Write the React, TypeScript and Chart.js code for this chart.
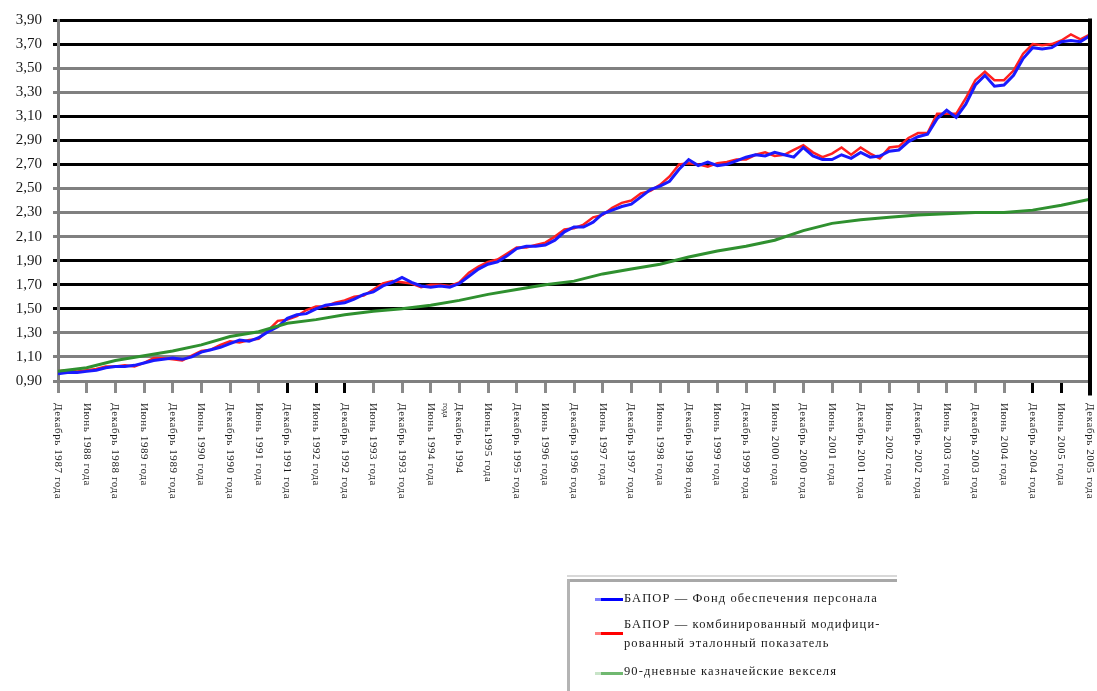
import React, { useEffect, useRef } from "react";
import { Chart, registerables } from "chart.js";

Chart.register(...registerables);

// Months counted from December 1987 (0) to December 2005 (216)
const seriesMonths: number[] = [
  0, 2, 4, 6, 8, 10, 12, 14, 16, 18, 20, 22, 24, 26, 28, 30, 32, 34, 36, 38, 40, 42, 44, 46, 48, 50, 52, 54,
  56, 58, 60, 62, 64, 66, 68, 70, 72, 74, 76, 78, 80, 82, 84, 86, 88, 90, 92, 94, 96, 98, 100, 102, 104, 106,
  108, 110, 112, 114, 116, 118, 120, 122, 124, 126, 128, 130, 132, 134, 136, 138, 140, 142, 144, 146, 148,
  150, 152, 154, 156, 158, 160, 162, 164, 166, 168, 170, 172, 174, 176, 178, 180, 182, 184, 186, 188, 190,
  192, 194, 196, 198, 200, 202, 204, 206, 208, 210, 212, 214, 216,
];

const fundValues: number[] = [
  0.96, 0.97, 0.97, 0.98, 0.99, 1.01, 1.02, 1.02, 1.03, 1.05, 1.07, 1.08, 1.09, 1.08, 1.1, 1.14, 1.16, 1.18,
  1.21, 1.24, 1.23, 1.26, 1.31, 1.35, 1.42, 1.45, 1.46, 1.5, 1.53, 1.54, 1.55, 1.58, 1.62, 1.64, 1.69, 1.72,
  1.76, 1.72, 1.69, 1.68, 1.69, 1.68, 1.71, 1.77, 1.83, 1.87, 1.89, 1.94, 2.0, 2.02, 2.02, 2.03, 2.07, 2.14,
  2.18, 2.18, 2.22, 2.29, 2.32, 2.35, 2.37, 2.43, 2.49, 2.52, 2.56, 2.66, 2.74, 2.69, 2.72, 2.69, 2.7, 2.73,
  2.76, 2.78, 2.77, 2.8, 2.78, 2.76, 2.84, 2.77, 2.74, 2.74, 2.78, 2.75, 2.8, 2.76, 2.77, 2.81, 2.82, 2.89,
  2.93, 2.95, 3.08, 3.15, 3.09, 3.2, 3.36, 3.44, 3.35, 3.36, 3.44, 3.58, 3.67, 3.66, 3.67, 3.72, 3.73, 3.72,
  3.77,
];

const benchmarkValues: number[] = [
  0.98, 0.99, 0.98, 0.99, 1.0, 1.02, 1.02, 1.03, 1.02, 1.05, 1.09, 1.09, 1.08, 1.07, 1.11, 1.15, 1.16, 1.2,
  1.23, 1.22, 1.24, 1.25, 1.32, 1.4, 1.41, 1.44, 1.49, 1.52, 1.52, 1.55, 1.57, 1.6, 1.61, 1.66, 1.71, 1.73,
  1.72, 1.71, 1.68, 1.7, 1.7, 1.69, 1.72, 1.8, 1.85, 1.89, 1.91, 1.96, 2.01, 2.01, 2.03, 2.05, 2.1, 2.16,
  2.17, 2.2, 2.26, 2.28, 2.34, 2.38, 2.4, 2.46, 2.48, 2.53, 2.6, 2.7, 2.71, 2.7, 2.68, 2.71, 2.72, 2.74,
  2.74, 2.78, 2.8, 2.77, 2.78, 2.82, 2.86, 2.8, 2.76, 2.79, 2.84, 2.78, 2.84, 2.79, 2.75, 2.84, 2.85, 2.92,
  2.96, 2.96, 3.12, 3.12, 3.12, 3.25, 3.4, 3.47, 3.4, 3.4, 3.48, 3.62, 3.7, 3.69, 3.7, 3.73, 3.78, 3.74,
  3.78,
];

const billMonths: number[] = [
  0, 6, 12, 18, 24, 30, 36, 42, 48, 54, 60, 66, 72, 78, 84, 90, 96, 102, 108, 114, 120, 126, 132, 138, 144,
  150, 156, 162, 168, 174, 180, 186, 192, 198, 204, 210, 216,
];

const billValues: number[] = [
  0.98, 1.01, 1.07, 1.11, 1.15, 1.2, 1.27, 1.31, 1.38, 1.41, 1.45, 1.48, 1.5, 1.53, 1.57, 1.62, 1.66, 1.7,
  1.73, 1.79, 1.83, 1.87, 1.93, 1.98, 2.02, 2.07, 2.15, 2.21, 2.24, 2.26, 2.28, 2.29, 2.3, 2.3, 2.32, 2.36,
  2.41,
];

const xTickMonths: number[] = billMonths;

const xTickLabels: string[] = [
  "Декабрь 1987 года", "Июнь 1988 года", "Декабрь 1988 года", "Июнь 1989 года", "Декабрь 1989 года",
  "Июнь 1990 года", "Декабрь 1990 года", "Июнь 1991 года", "Декабрь 1991 года", "Июнь 1992 года",
  "Декабрь 1992 года", "Июнь 1993 года", "Декабрь 1993 года", "Июнь 1994 года", "Декабрь 1994",
  "Июнь1995 года", "Декабрь 1995 года", "Июнь 1996 года", "Декабрь 1996 года", "Июнь 1997 года",
  "Декабрь 1997 года", "Июнь 1998 года", "Декабрь 1998 года", "Июнь 1999 года", "Декабрь 1999 года",
  "Июнь 2000 года", "Декабрь 2000 года", "Июнь 2001 года", "Декабрь 2001 года", "Июнь 2002 года",
  "Декабрь 2002 года", "Июнь 2003 года", "Декабрь 2003 года", "Июнь 2004 года", "Декабрь 2004 года",
  "Июнь 2005 года", "Декабрь 2005 года",
];

const xTickNoteIndex = 14;
const xTickNote = "года";

const yTickValues: number[] = [0.9, 1.1, 1.3, 1.5, 1.7, 1.9, 2.1, 2.3, 2.5, 2.7, 2.9, 3.1, 3.3, 3.5, 3.7, 3.9];
const yTickLabels: string[] = [
  "0,90", "1,10", "1,30", "1,50", "1,70", "1,90", "2,10", "2,30", "2,50", "2,70", "2,90", "3,10", "3,30",
  "3,50", "3,70", "3,90",
];

const seriesNames: string[] = [
  "БАПОР — Фонд обеспечения персонала",
  "БАПОР — комбинированный модифици-рованный эталонный показатель",
  "90-дневные казначейские векселя",
];

// Styling (not data)
const darkGridIndexes = [3, 4, 5, 9, 10, 11, 14, 15];
const darkXTickIndexes = [8, 9, 10, 34, 35, 36];
const FONT = '"Liberation Serif", "Times New Roman", serif';

const xLabelPlugin = {
  id: "xLabelPlugin",
  afterDraw(chart: any) {
    const { ctx, chartArea } = chart;
    const xs = chart.scales.x;
    ctx.save();
    // right frame line
    ctx.fillStyle = "#000";
    ctx.fillRect(chartArea.right - 2, chartArea.top - 1.5, 4, chartArea.bottom - chartArea.top + 16);
    ctx.fillStyle = "#1a1a1a";
    ctx.textBaseline = "middle";
    ctx.textAlign = "left";
    xTickMonths.forEach((m, i) => {
      const x = xs.getPixelForValue(m);
      ctx.save();
      ctx.font = `11px ${FONT}`;
      (ctx as any).letterSpacing = "0.6px";
      ctx.translate(x, chartArea.bottom + 22);
      ctx.rotate(Math.PI / 2);
      ctx.fillText(xTickLabels[i], 0, 0);
      ctx.restore();
      if (i === xTickNoteIndex) {
        ctx.save();
        ctx.font = `8px ${FONT}`;
        ctx.translate(x - 14, chartArea.bottom + 22);
        ctx.rotate(Math.PI / 2);
        ctx.fillText(xTickNote, 0, 0);
        ctx.restore();
      }
    });
    ctx.restore();
  },
};

function toPoints(months: number[], values: number[]) {
  return values.map((v, i) => ({ x: months[i], y: v }));
}

const legendTextStyle: React.CSSProperties = {
  position: "absolute",
  left: 624,
  fontFamily: FONT,
  fontSize: 12.5,
  letterSpacing: "1.1px",
  color: "#1a1a1a",
  lineHeight: "19px",
  whiteSpace: "nowrap",
};

function LegendLine({ top, color, light }: { top: number; color: string; light: string }) {
  return (
    <>
      <div style={{ position: "absolute", left: 595, top: top - 1.5, width: 6, height: 3, background: light }} />
      <div style={{ position: "absolute", left: 601, top: top - 1.5, width: 22, height: 3, background: color }} />
    </>
  );
}

export default function App() {
  const canvasRef = useRef<HTMLCanvasElement>(null);

  useEffect(() => {
    if (!canvasRef.current) return;
    const chart = new Chart(canvasRef.current, {
      type: "line",
      data: {
        datasets: [
          {
            label: seriesNames[2],
            data: toPoints(billMonths, billValues),
            borderColor: "#2f902f",
            borderWidth: 3,
            pointRadius: 0,
            tension: 0,
          },
          {
            label: seriesNames[0],
            data: toPoints(seriesMonths, fundValues),
            borderColor: "#1a1aff",
            borderWidth: 3,
            pointRadius: 0,
            tension: 0,
          },
          {
            label: seriesNames[1],
            data: toPoints(seriesMonths, benchmarkValues),
            borderColor: "#ff2020",
            borderWidth: 2.5,
            pointRadius: 0,
            tension: 0,
          },
        ],
      },
      options: {
        responsive: false,
        animation: false,
        devicePixelRatio: 1,
        layout: { padding: { left: 0, top: 14, right: 7, bottom: 0 } },
        plugins: { legend: { display: false }, tooltip: { enabled: false } },
        scales: {
          x: {
            type: "linear",
            min: 0,
            max: 216,
            afterBuildTicks: (scale: any) => {
              scale.ticks = xTickMonths.map((v) => ({ value: v }));
            },
            afterFit: (scale: any) => {
              scale.height = 310;
            },
            ticks: { display: false },
            grid: {
              drawOnChartArea: false,
              drawTicks: true,
              tickLength: 12,
              lineWidth: 3,
              tickColor: (ctx: any) => (darkXTickIndexes.includes(ctx.index) ? "#000" : "#8a8a8a"),
            },
            border: { display: true, color: "#808080", width: 3 },
          },
          y: {
            type: "linear",
            min: 0.9,
            max: 3.9,
            afterBuildTicks: (scale: any) => {
              scale.ticks = yTickValues.map((v) => ({ value: v }));
            },
            afterFit: (scale: any) => {
              scale.width = 58;
            },
            ticks: {
              padding: 11,
              color: "#1a1a1a",
              font: { family: FONT, size: 15 },
              callback: (_v: any, i: number) => yTickLabels[i],
            },
            grid: {
              lineWidth: 3,
              tickLength: 5,
              color: (ctx: any) => (darkGridIndexes.includes(ctx.index) ? "#000" : "#808080"),
            },
            border: { display: true, color: "#808080", width: 3 },
          },
        },
      },
      plugins: [xLabelPlugin],
    });
    return () => chart.destroy();
  }, []);

  return (
    <div style={{ position: "absolute", left: 0, top: 0, width: 1097, height: 691, overflow: "hidden", background: "#fff" }}>
      <canvas ref={canvasRef} width={1097} height={691} style={{ position: "absolute", left: 0, top: 0 }} />
      <div style={{ position: "absolute", left: 567, top: 575, width: 330, height: 2, background: "#d8d8d8" }} />
      <div style={{ position: "absolute", left: 567, top: 579, width: 330, height: 3, background: "#a8a8a8" }} />
      <div style={{ position: "absolute", left: 567, top: 579, width: 3, height: 112, background: "#b4b4b4" }} />
      <LegendLine top={599} color="#0000ff" light="#8080ff" />
      <div style={{ ...legendTextStyle, top: 589 }}>{seriesNames[0]}</div>
      <LegendLine top={633} color="#ff0000" light="#ff8080" />
      <div style={{ ...legendTextStyle, top: 615 }}>
        БАПОР — комбинированный модифици-
        <br />
        рованный эталонный показатель
      </div>
      <LegendLine top={673} color="#70b870" light="#c8e4c8" />
      <div style={{ ...legendTextStyle, top: 662 }}>{seriesNames[2]}</div>
    </div>
  );
}
